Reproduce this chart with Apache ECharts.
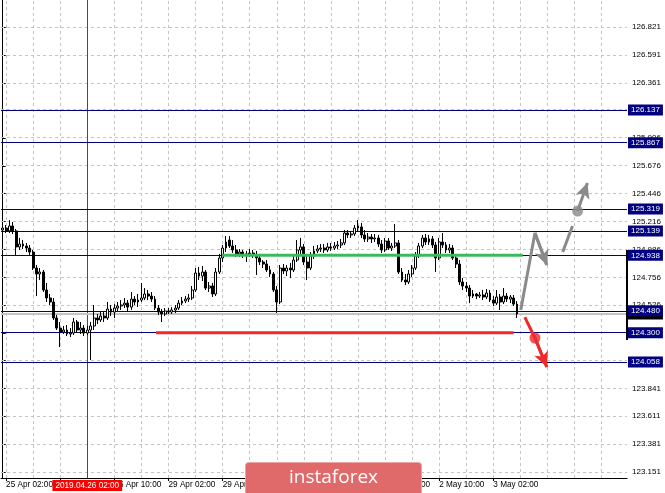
<!DOCTYPE html>
<html><head><meta charset="utf-8">
<script src="https://cdn.jsdelivr.net/npm/echarts@6.0.0/dist/echarts.min.js"></script>
<style>html,body{margin:0;padding:0;background:#fff}#c{width:665px;height:493px}</style>
</head><body><div id="c"></div>
<script>
// ---- categories (hourly bars, weekend skipped) ----
const days = ['25 Apr','26 Apr','29 Apr','30 Apr','1 May','2 May','3 May','6 May','7 May'];
const slotCount = 185;
const categories = [];
for (let i = 0; i < slotCount; i++) {
  const h = i + 1;
  categories.push(days[Math.floor(h / 24)] + ' ' + String(h % 24).padStart(2, '0') + ':00');
}
const xTickLabels = ['25 Apr 02:00','25 Apr 18:00','26 Apr 10:00','29 Apr 02:00','29 Apr 18:00',
  '30 Apr 10:00','1 May 02:00','1 May 18:00','2 May 10:00','3 May 02:00'];
const yTicks = [126.821,126.591,126.361,126.136,125.906,125.676,125.446,125.216,124.986,
  124.756,124.526,124.296,124.071,123.841,123.611,123.381,123.151];

// ---- OHLC ----
const opens = [125.147,125.163,125.139,125.180,125.139,125.007,125.031,125.015,124.998,124.965,
124.833,124.784,124.800,124.652,124.586,124.553,124.421,124.338,124.305,124.322,
124.289,124.297,124.388,124.322,124.338,124.297,124.322,124.355,124.421,124.405,
124.437,124.421,124.495,124.470,124.503,124.520,124.528,124.544,124.511,124.577,
124.553,124.569,124.586,124.619,124.602,124.577,124.503,124.470,124.454,124.479,
124.470,124.487,124.503,124.544,124.561,124.577,124.586,124.652,124.792,124.767,
124.800,124.668,124.685,124.619,124.800,124.916,124.998,125.064,125.015,124.982,
124.949,124.965,124.941,124.949,124.957,124.941,124.916,124.883,124.866,124.817,
124.784,124.652,124.553,124.833,124.809,124.833,124.817,124.899,124.982,125.007,
124.883,124.833,124.932,124.974,124.990,124.998,124.982,125.007,124.998,125.015,
125.023,125.040,125.122,125.106,125.114,125.163,125.172,125.106,125.073,125.089,
125.073,125.081,125.031,124.982,125.056,124.998,125.015,125.040,124.800,124.734,
124.718,124.784,124.833,124.932,125.015,125.081,125.048,125.073,125.023,124.916,
125.048,125.023,124.982,124.998,124.916,124.866,124.718,124.685,124.668,124.602,
124.619,124.602,124.611,124.594,124.627,124.569,124.544,124.594,124.553,124.602,
124.577,124.586,124.536];
const closes = [125.163,125.139,125.180,125.139,125.007,125.031,125.015,124.998,124.965,124.833,
124.784,124.800,124.652,124.586,124.553,124.421,124.338,124.305,124.322,124.289,
124.297,124.388,124.322,124.338,124.297,124.322,124.355,124.421,124.405,124.437,
124.421,124.495,124.470,124.503,124.520,124.528,124.544,124.511,124.577,124.553,
124.569,124.586,124.619,124.602,124.577,124.503,124.470,124.454,124.479,124.470,
124.487,124.503,124.544,124.561,124.577,124.586,124.652,124.792,124.767,124.800,
124.668,124.685,124.619,124.800,124.916,124.998,125.048,125.015,124.982,124.949,
124.965,124.941,124.949,124.957,124.941,124.916,124.883,124.866,124.817,124.784,
124.652,124.553,124.833,124.809,124.833,124.817,124.899,124.982,125.007,124.883,
124.833,124.932,124.974,124.990,124.998,124.982,125.007,124.998,125.015,125.023,
125.040,125.122,125.106,125.114,125.163,125.180,125.106,125.073,125.089,125.073,
125.081,125.031,124.982,125.056,124.998,125.015,125.040,124.800,124.734,124.718,
124.784,124.833,124.932,125.015,125.081,125.048,125.073,125.023,124.916,125.048,
125.023,124.982,124.998,124.916,124.866,124.718,124.685,124.668,124.602,124.619,
124.602,124.611,124.594,124.627,124.569,124.544,124.594,124.553,124.602,124.577,
124.594,124.536,124.454];
const highs = [125.196,125.188,125.229,125.213,125.155,125.081,125.064,125.040,125.023,124.982,
124.858,124.833,124.817,124.710,124.619,124.586,124.446,124.388,124.355,124.363,
124.338,124.421,124.405,124.388,124.363,124.355,124.388,124.528,124.454,124.470,
124.470,124.553,124.528,124.536,124.553,124.569,124.586,124.569,124.635,124.602,
124.619,124.710,124.668,124.652,124.635,124.602,124.528,124.495,124.503,124.503,
124.511,124.528,124.569,124.594,124.602,124.619,124.685,124.833,124.842,124.850,
124.817,124.718,124.710,124.833,124.949,125.023,125.097,125.097,125.064,125.023,
124.990,124.982,124.974,124.990,124.982,124.974,124.949,124.899,124.899,124.850,
124.800,124.685,124.858,124.866,124.858,124.875,124.932,125.064,125.081,125.031,
124.932,124.965,125.015,125.023,125.031,125.031,125.040,125.040,125.048,125.056,
125.073,125.147,125.147,125.139,125.188,125.229,125.205,125.147,125.122,125.114,
125.114,125.106,125.064,125.081,125.081,125.040,125.196,125.064,124.833,124.784,
124.817,124.858,124.965,125.040,125.106,125.114,125.106,125.097,125.048,125.081,
125.122,125.048,125.031,125.023,124.949,124.899,124.751,124.718,124.693,124.652,
124.627,124.635,124.652,124.660,124.652,124.602,124.652,124.619,124.668,124.627,
124.611,124.611,124.561];
const lows = [125.122,125.122,125.122,125.114,124.941,124.982,124.990,124.965,124.941,124.817,
124.602,124.734,124.636,124.553,124.528,124.405,124.322,124.182,124.289,124.272,
124.264,124.281,124.297,124.289,124.272,124.281,124.075,124.322,124.371,124.388,
124.388,124.405,124.437,124.421,124.479,124.487,124.503,124.470,124.487,124.528,
124.512,124.553,124.569,124.569,124.553,124.487,124.446,124.388,124.437,124.454,
124.454,124.462,124.487,124.528,124.544,124.553,124.569,124.636,124.734,124.726,
124.652,124.636,124.594,124.602,124.784,124.883,124.965,124.998,124.957,124.924,
124.924,124.916,124.883,124.924,124.916,124.776,124.858,124.833,124.800,124.759,
124.636,124.462,124.536,124.784,124.767,124.751,124.800,124.883,124.932,124.858,
124.734,124.817,124.907,124.957,124.965,124.957,124.965,124.974,124.982,124.990,
124.998,125.023,125.081,125.081,125.097,125.130,125.081,125.048,125.048,125.040,
125.048,125.007,124.957,124.965,124.982,124.974,124.998,124.784,124.718,124.693,
124.701,124.759,124.817,124.916,124.998,125.023,125.023,124.998,124.800,124.899,
124.998,124.957,124.957,124.899,124.833,124.693,124.652,124.636,124.544,124.586,
124.577,124.586,124.569,124.577,124.553,124.520,124.528,124.487,124.536,124.553,
124.544,124.520,124.421];

// ---- levels & annotations ----
const levels = [126.137, 125.867, 125.319, 125.139, 124.938, 124.480, 124.300, 124.058];
const bidPrice = 124.454;
const greenPrice = 124.938, greenSpan = [64.8, 153.7];
const redPrice = 124.300, redSpan = [45.3, 151.0];
const grayPathA = [[153.1,124.487],[157.3,125.122],[160.8,124.858]];
const grayPathB = [[165.5,124.965],[168.4,125.180]];
const grayArrowB = [[169.9,125.303],[172.8,125.534]];
const grayDot = [169.9,125.303];
const redPath = [[154.3,124.429],[157.3,124.256],[160.8,124.017]];
const redDot = [157.3,124.256];
const crossName = '26 Apr 02:00', crossLabel = '2019.04.26 02:00';
const axisMark = [124.982, 124.240];

const FONT = '"Liberation Sans", Arial, sans-serif';
const yMin = 123.1014, yMax = 127.0437;
const candleData = opens.map((o, i) => [o, closes[i], lows[i], highs[i]]);
const gridX = []; for (let i = 1; i < slotCount; i += 8) gridX.push(i);
const crossIdx = categories.indexOf(crossName);
const GRAY = '#8a8a8a', RED = '#ee2a2a';

const chart = echarts.init(document.getElementById('c'));
chart.setOption({
  animation: false,
  backgroundColor: '#fff',
  grid: { left: 1, right: 38, top: 0, bottom: 15 },
  xAxis: [
    { type: 'category', data: categories, boundaryGap: true,
      axisLine: { show: true, lineStyle: { color: '#000', width: 1 } },
      axisTick: { show: true, alignWithLabel: true, interval: (i, v) => xTickLabels.includes(v), length: 3, lineStyle: { color: '#000' } },
      axisLabel: { interval: (i, v) => xTickLabels.includes(v), align: 'left', margin: 3,
        fontFamily: FONT, fontSize: 8.2, color: '#000' },
      splitLine: { show: false } },
    { type: 'value', min: -0.5, max: slotCount - 0.5, show: false }
  ],
  yAxis: [{ type: 'value', position: 'right', min: yMin, max: yMax,
    axisLine: { show: true, lineStyle: { color: '#000', width: 1 } },
    axisTick: { show: true, customValues: yTicks, length: 3, lineStyle: { color: '#000' } },
    axisLabel: { customValues: yTicks, formatter: v => Number(v).toFixed(3), margin: 5,
      fontFamily: FONT, fontSize: 8, color: '#000' },
    splitLine: { show: false } }],
  graphic: [{
    type: 'group', left: 245, top: 462, z: 100, zlevel: 1,
    children: [
      { type: 'rect', z: 100, zlevel: 1, shape: { x: 0, y: 0, width: 176, height: 34, r: 3 },
        style: { fill: '#e06a6a', stroke: '#eba3a3', lineWidth: 1 } },
      { type: 'text', z: 101, zlevel: 1, style: { text: 'instaforex', x: 88, y: 15, align: 'center', verticalAlign: 'middle',
        fill: '#fff', font: '19px "Open Sans", sans-serif' } }
    ]
  }],
  series: [
    { name: 'grid', type: 'line', xAxisIndex: 1, data: [], z: 1, silent: true,
      markLine: { silent: true, symbol: 'none', animation: false, label: { show: false },
        lineStyle: { color: '#c4c4c4', type: [3, 3], width: 1 },
        data: [...yTicks.map(v => ({ yAxis: v })), ...gridX.map(v => ({ xAxis: v }))] } },
    { name: 'crosshair', type: 'line', xAxisIndex: 1, data: [], z: 2, silent: true,
      markLine: { silent: true, symbol: 'none', animation: false,
        lineStyle: { color: '#ff0000', type: 'solid', width: 1 },
        label: { show: true, position: 'start', formatter: crossLabel, backgroundColor: '#ff0000',
          color: '#fff', fontFamily: FONT, fontSize: 8.2, padding: [2, 3, 1, 3], distance: 2 },
        data: [{ xAxis: crossIdx }] } },
    { name: 'levels', type: 'line', xAxisIndex: 1, data: [], z: 4, silent: true,
      markLine: { silent: true, symbol: 'none', animation: false, precision: 3,
        lineStyle: { color: '#000080', type: 'solid', width: 1 },
        label: { show: true, position: 'end', formatter: p => Number(p.value).toFixed(3),
          backgroundColor: '#000080', color: '#fff', fontFamily: FONT, fontSize: 8,
          padding: [2, 3, 1, 3], distance: 1 },
        data: [{ yAxis: bidPrice, lineStyle: { color: '#c4c4c4', width: 2 },
                 label: { backgroundColor: '#000' } },
               ...levels.map(v => ({ yAxis: v }))] } },
    { name: 'candles', type: 'candlestick', xAxisIndex: 0, data: candleData, z: 5, barWidth: 2.4,
      itemStyle: { color: '#fff', color0: '#000', borderColor: '#000', borderColor0: '#000', borderWidth: 1 } },
    { name: 'green', type: 'line', xAxisIndex: 1, z: 6, symbol: 'none',
      data: greenSpan.map(x => [x, greenPrice]), lineStyle: { color: '#3cba5a', width: 3 } },
    { name: 'red', type: 'line', xAxisIndex: 1, z: 6, symbol: 'none',
      data: redSpan.map(x => [x, redPrice]), lineStyle: { color: RED, width: 3 } },
    { name: 'grayA', type: 'line', xAxisIndex: 1, z: 7, symbol: 'none', clip: false,
      data: grayPathA, lineStyle: { color: GRAY, width: 3 },
      markLine: { silent: true, symbol: ['none', 'arrow'], symbolSize: [11, 15], animation: false,
        lineStyle: { color: GRAY, width: 3, type: 'solid' }, label: { show: false },
        data: [[{ coord: grayPathA[1] }, { coord: grayPathA[2] }]] } },
    { name: 'grayB', type: 'line', xAxisIndex: 1, z: 7, symbol: 'none', clip: false,
      data: grayPathB, lineStyle: { color: GRAY, width: 3 },
      markLine: { silent: true, symbol: ['none', 'arrow'], symbolSize: [11, 15], animation: false,
        lineStyle: { color: GRAY, width: 3, type: 'solid' }, label: { show: false },
        data: [[{ coord: grayArrowB[0] }, { coord: grayArrowB[1] }]] } },
    { name: 'redArrow', type: 'line', xAxisIndex: 1, z: 7, symbol: 'none', clip: false,
      data: redPath, lineStyle: { color: RED, width: 3 },
      markLine: { silent: true, symbol: ['none', 'arrow'], symbolSize: [11, 15], animation: false,
        lineStyle: { color: RED, width: 3, type: 'solid' }, label: { show: false },
        data: [[{ coord: redPath[1] }, { coord: redPath[2] }]] } },
    { name: 'dots', type: 'scatter', xAxisIndex: 1, z: 8, symbolSize: 11, clip: false,
      data: [{ value: grayDot, itemStyle: { color: GRAY } }, { value: redDot, itemStyle: { color: RED } }] },
    { name: 'axisMark', type: 'line', xAxisIndex: 1, z: 9, symbol: 'none', clip: false,
      data: axisMark.map(v => [slotCount - 0.5, v]), lineStyle: { color: '#000', width: 2 } }
  ]
});
</script></body></html>
